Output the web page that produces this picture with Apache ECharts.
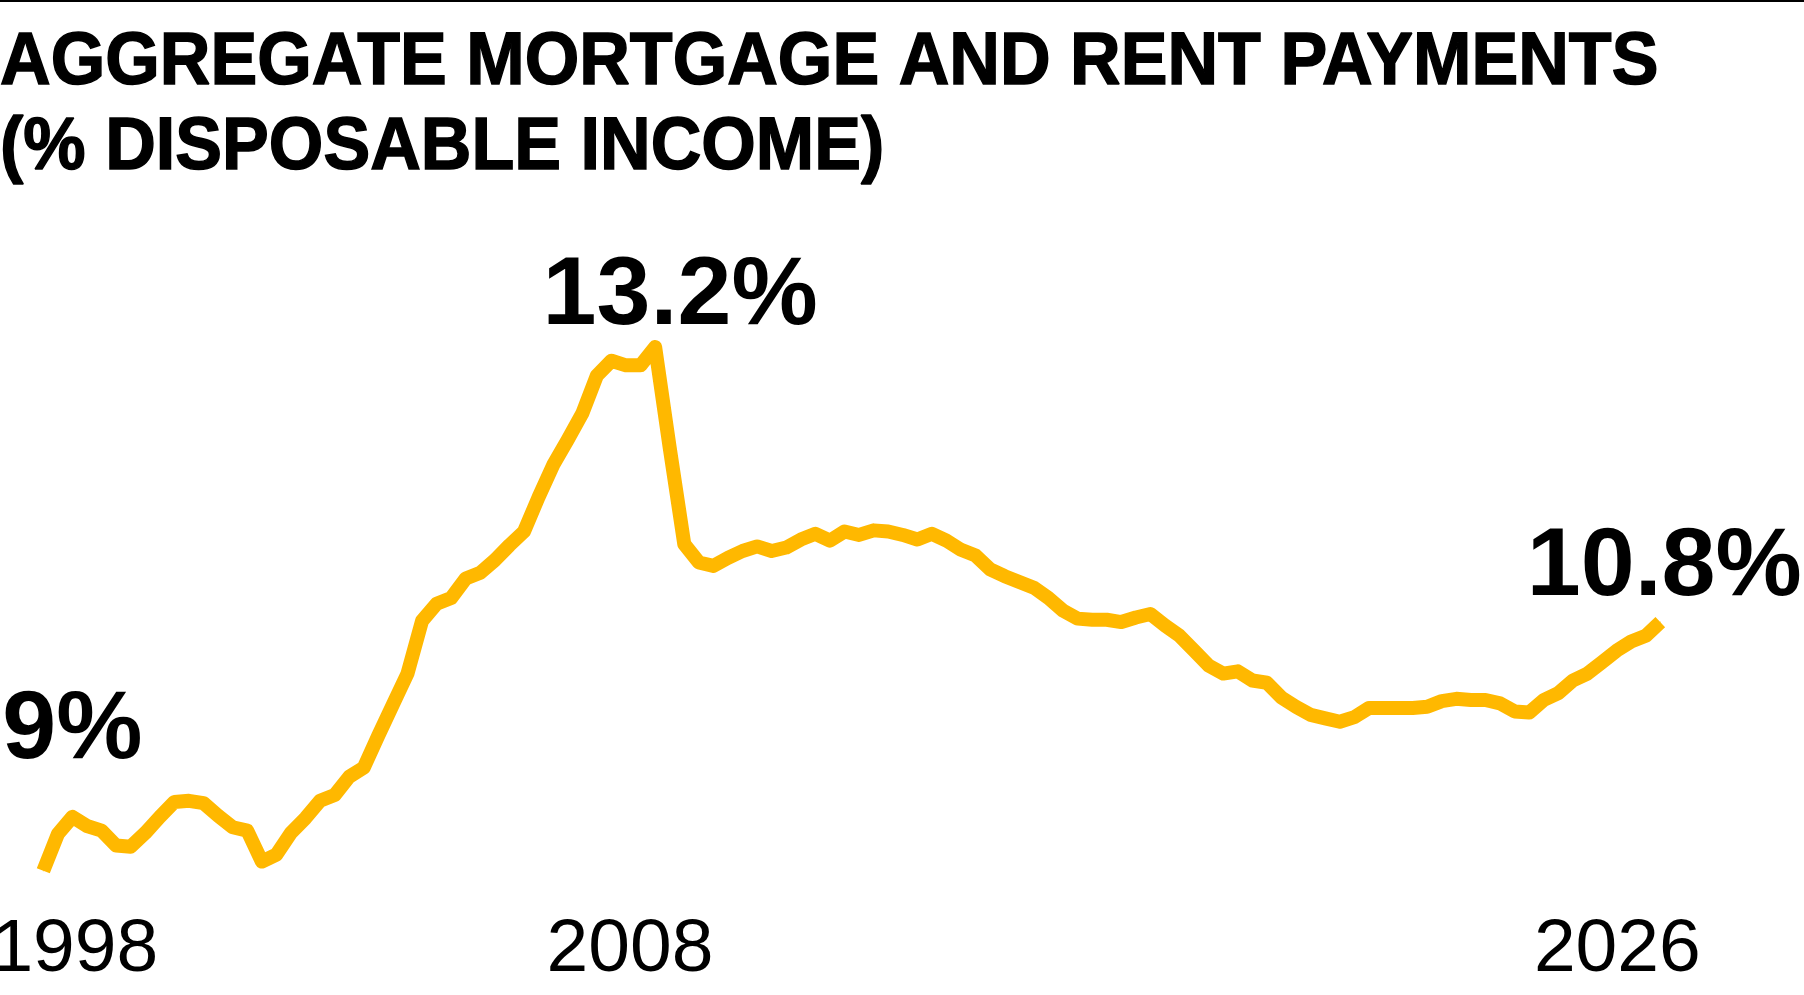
<!DOCTYPE html>
<html>
<head>
<meta charset="utf-8">
<script src="https://cdn.jsdelivr.net/npm/echarts@6/dist/echarts.min.js"></script>
<style>
  html, body { margin: 0; padding: 0; background: #fff; }
  #chart { width: 1804px; height: 995px; }
</style>
</head>
<body>
<div id="chart"></div>
<script>
// ---- Data (quarterly, 1998 Q1 to 2025 Q4), % of disposable income ----
const startYear = 1998;
const paymentShare = [
  8.63, 8.95, 9.10, 9.02, 8.98, 8.85, 8.84, 8.96,
  9.10, 9.23, 9.24, 9.22, 9.11, 9.01, 8.98, 8.71,
  8.77, 8.96, 9.09, 9.24, 9.29, 9.45, 9.53, 9.81,
  10.08, 10.35, 10.81, 10.96, 11.01, 11.18, 11.23, 11.34,
  11.47, 11.59, 11.89, 12.17, 12.39, 12.62, 12.95, 13.08,
  13.04, 13.04, 13.20, 12.32, 11.48, 11.32, 11.29, 11.36,
  11.42, 11.46, 11.42, 11.45, 11.52, 11.57, 11.51, 11.59,
  11.56, 11.60, 11.59, 11.56, 11.52, 11.57, 11.51, 11.43,
  11.38, 11.26, 11.20, 11.15, 11.10, 11.01, 10.90, 10.83,
  10.82, 10.82, 10.80, 10.84, 10.87, 10.77, 10.68, 10.55,
  10.42, 10.35, 10.37, 10.29, 10.27, 10.14, 10.06, 9.99,
  9.96, 9.93, 9.97, 10.05, 10.05, 10.05, 10.05, 10.06,
  10.11, 10.13, 10.12, 10.12, 10.09, 10.02, 10.01, 10.12,
  10.18, 10.29, 10.35, 10.45, 10.55, 10.63, 10.68, 10.80
];
const quarters = paymentShare.map((_, i) => (startYear + Math.floor(i / 4)) + ' Q' + (i % 4 + 1));

// Title
const titleLines = ['AGGREGATE MORTGAGE AND RENT PAYMENTS', '(% DISPOSABLE INCOME)'];

// Axis tick labels and the quarter index they belong to
const tickLabels = ['1998', '2008', '2026'];
const tickIndex = [0, 40, 111];

// Annotations
const annotationText = ['9%', '13.2%', '10.8%'];
const annotationIndex = [0, 42, 111];

// ---- Styling (kept out of the data) ----
const FONT = "'Liberation Sans', Arial, Helvetica, sans-serif";
const annotationDistance = [90, 1, 5];
const annotationDx = [29, 25, 4];
const tickRich = {
  t0: { padding: [0, 0, 0, 63] },
  t1: { padding: [0, 0, 0, 8] },
  t2: { padding: [0, 86, 0, 0] }
};

const seriesData = paymentShare.map((v, i) => {
  const k = annotationIndex.indexOf(i);
  if (k < 0) return v;
  return {
    value: v,
    symbol: 'circle',
    symbolSize: 1,
    itemStyle: { color: '#FFB800' },
    label: {
      show: true,
      formatter: annotationText[k],
      position: 'top',
      distance: annotationDistance[k],
      offset: [annotationDx[k], 0],
      fontFamily: FONT,
      fontWeight: 'bold',
      fontSize: 97,
      color: '#000'
    }
  };
});

const chart = echarts.init(document.getElementById('chart'), null, { renderer: 'canvas' });
chart.setOption({
  animation: false,
  backgroundColor: '#fff',
  graphic: [
    { type: 'rect', shape: { x: 0, y: 0, width: 1804, height: 2 }, style: { fill: '#000' }, silent: true },
    {
      type: 'text',
      x: 0,
      y: 21,
      scaleX: 0.935,
      silent: true,
      style: {
        text: titleLines.join('\n'),
        fontFamily: FONT,
        fontWeight: 'bold',
        fontSize: 75,
        lineHeight: 85,
        fill: '#000',
        stroke: '#000',
        lineWidth: 1.5,
        verticalAlign: 'top',
        align: 'left'
      }
    }
  ],
  grid: {
    left: 43.3,
    right: 143.7,
    top: 255.3,
    bottom: 97.9,
    containLabel: false,
    outerBoundsMode: 'none'
  },
  xAxis: {
    type: 'category',
    data: quarters,
    boundaryGap: false,
    axisLine: { show: false },
    axisTick: { show: false },
    splitLine: { show: false },
    axisLabel: {
      interval: (index) => tickIndex.indexOf(index) >= 0,
      formatter: (value, index) => {
        const k = tickIndex.indexOf(index);
        return k < 0 ? '' : '{t' + k + '|' + tickLabels[k] + '}';
      },
      rich: tickRich,
      margin: 16,
      fontFamily: FONT,
      fontSize: 75,
      color: '#000',
      hideOverlap: false
    }
  },
  yAxis: {
    type: 'value',
    min: 8.4,
    max: 14,
    show: false,
    splitLine: { show: false }
  },
  series: [{
    type: 'line',
    data: seriesData,
    symbol: 'none',
    showSymbol: true,
    lineStyle: { color: '#FFB800', width: 14, cap: 'butt', join: 'round' },
    emphasis: { disabled: true },
    silent: true
  }]
});
</script>
</body>
</html>
